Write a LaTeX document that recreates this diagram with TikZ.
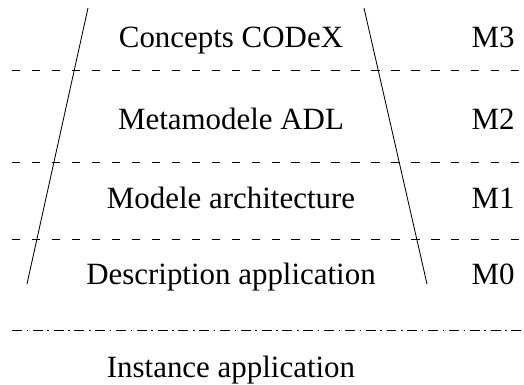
\documentclass[tikz,border=0pt]{standalone}
\usepackage{fontspec}
\setmainfont{Liberation Serif}
\usetikzlibrary{calc}
\tikzset{
	layertext/.style={anchor=base, inner sep=0pt, font=\fontsize{22}{26}\selectfont},
	metalabel/.style={layertext},
	sepline/.style={line width=0.6pt, dash pattern=on 5.9pt off 8.3pt},
	instline/.style={line width=0.6pt, dash pattern=on 7.1pt off 3.3pt on 1.1pt off 3.3pt},
}

\begin{document}
\begin{tikzpicture}
		%%%%% START %%%%%
		\useasboundingbox (0, 0) rectangle (13.1, -9.625);
		
		\draw[line width=0.6pt] (2.2, -0.2) -- (0.675, -7.1);
		\draw[line width=0.6pt] (9.1, -0.2) -- (10.675, -7.1);
		
		\draw[sepline] (0.3, -1.75) -- (13.05, -1.75);
		\draw[sepline] (0.3, -4.05) -- (13.05, -4.05);
		\draw[sepline] (0.3, -5.975) -- (13.05, -5.975);
		\draw[instline] (0.3, -8.25) -- (13.1, -8.25);
		
		\node[layertext] (codex) at (5.775, -1.2) {Concepts CODeX};
		\node[layertext] (adl) at (5.775, -3.25) {Metamodele ADL};
		\node[layertext] (archi) at (5.775, -5.225) {Modele architecture};
		\node[layertext] (descr) at (5.775, -7.125) {Description application};
		\node[layertext] (inst) at (5.775, -9.45) {Instance application};
		
		\node[metalabel] (m3) at (12.325, -1.2) {M3};
		\node[metalabel] (m2) at (12.325, -3.25) {M2};
		\node[metalabel] (m1) at (12.325, -5.225) {M1};
		\node[metalabel] (m0) at (12.325, -7.125) {M0};
		%%%%% END %%%%%
	\end{tikzpicture}
\end{document}
